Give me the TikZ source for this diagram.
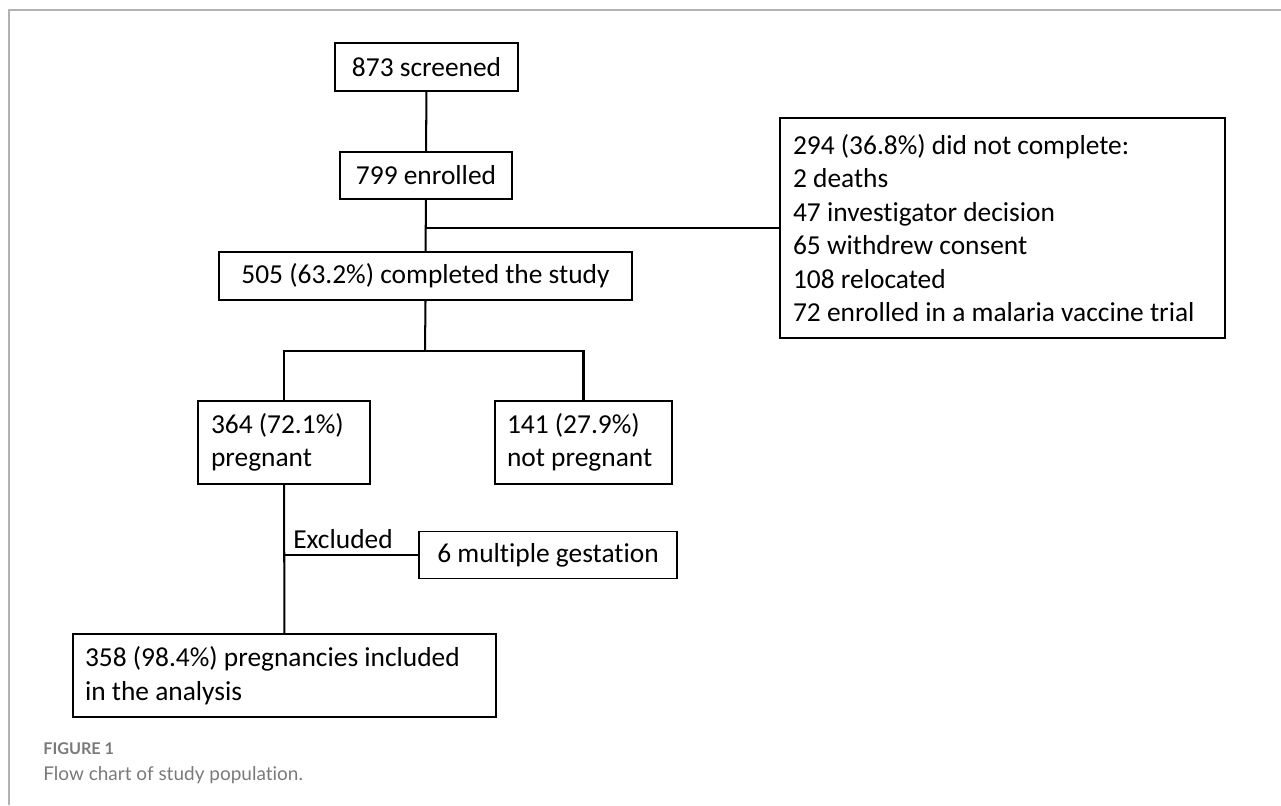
\documentclass[tikz,border=0pt]{standalone}
\usepackage{fontspec}
\setmainfont{Carlito}[Ligatures=NoCommon]
\newfontfamily\capfont{Lato}[Ligatures=NoCommon]
\usetikzlibrary{calc}
\tikzset{
	box/.style={draw, line width=0.85pt, inner sep=0pt, font=\fontsize{15.6}{19.1}\selectfont},
	boxl/.style={box, align=flush left},
	link/.style={line width=1.15pt},
}

\begin{document}
\begin{tikzpicture}[x=0.02cm, y=-0.02cm]
			%%%%% START %%%%%
			
			\useasboundingbox (0,0) rectangle (1281,805);
			\draw[line width=0.03cm, color=black!30] (9,805) -- (9,10) -- (1281,10);
			
			\node[box, minimum width=3.66cm, minimum height=0.96cm] (screened) at (426.5,67) {873 screened};
			\node[box, minimum width=3.44cm, minimum height=0.94cm] (enrolled) at (426,175.5) {799 enrolled};
			\node[box, minimum width=8.26cm, minimum height=0.96cm] (completed) at (425.5,276) {505 (63.2\%) completed the study};
			
			\node[boxl, text width=8.38cm, inner xsep=0.26cm, minimum height=4.4cm] (dropout) at (1002.5,228) {294 (36.8\%) did not complete:\\2 deaths\\47 investigator decision\\65 withdrew consent\\108 relocated\\72 enrolled in a malaria vaccine trial};
			
			\node[boxl, text width=2.92cm, inner xsep=0.26cm, minimum height=1.66cm] (pregnant) at (284,442.5) {364 (72.1\%)\\pregnant};
			\node[boxl, text width=3.06cm, inner xsep=0.24cm, minimum height=1.66cm] (notpreg) at (583.5,442.5) {141 (27.9\%)\\not pregnant};
			
			\node[box, minimum width=5.16cm, minimum height=0.94cm] (multiple) at (548,555) {6 multiple gestation};
			\node[boxl, text width=7.98cm, inner xsep=0.24cm, minimum height=1.66cm] (analysis) at (284.5,675.5) {358 (98.4\%) pregnancies included\\in the analysis};
			
			\coordinate (dropfork) at (enrolled.south |- dropout.west);
			\coordinate (splitfork) at (425,351);
			\coordinate (exclfork) at (pregnant.south |- multiple.west);
			
			\draw[link] (screened) -- (enrolled);
			\draw[link] (enrolled) -- (completed);
			\draw[link] (dropfork) -- (dropout.west);
			
			\draw[link] (completed.south) -- (splitfork);
			\draw[link] (pregnant.north) |- (splitfork) -| (notpreg.north);
			
			\draw[link] (pregnant) -- (analysis);
			\draw[link] (exclfork) -- (multiple.west);
			\node[anchor=base west, inner sep=0pt, font=\fontsize{15.6}{19.1}\selectfont] (excluded) at (293,548) {Excluded};
			
			\node[anchor=base west, inner sep=0pt, font=\capfont\bfseries\fontsize{9.2}{11}\selectfont, color=black!52] (figlabel) at (43,754) {FIGURE 1};
			\node[anchor=base west, inner sep=0pt, font=\capfont\fontsize{10.8}{13}\selectfont, color=black!52] (figcaption) at (43,780) {Flow chart of study population.};
			
			%%%%% END %%%%%
\end{tikzpicture}
\end{document}
